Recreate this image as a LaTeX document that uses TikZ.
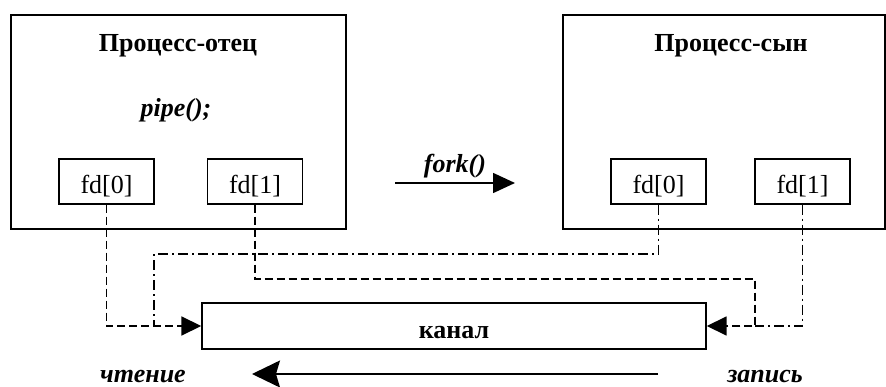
\documentclass[tikz,border=0pt]{standalone}
\usepackage{fontspec}
\setmainfont{Liberation Serif}
\usetikzlibrary{arrows.meta}

\begin{document}
\begin{tikzpicture}[x=1pt, y=-1pt,
  every node/.style={font=\fontsize{26}{30}\selectfont},
  procbox/.style={draw, line width=1.4pt, inner sep=0pt, minimum height=214pt},
  fdbox/.style={draw, line width=1.4pt, inner sep=0pt, minimum width=95pt, minimum height=45pt, text height=24pt, text depth=0pt},
  chanbox/.style={draw, line width=1.4pt, inner sep=0pt, minimum width=504pt, minimum height=46pt, text height=25pt, text depth=0pt, font=\fontsize{26}{30}\selectfont\bfseries},
  rdline/.style={line width=1.7pt, dash pattern=on 8pt off 4pt},
  wrline/.style={line width=1.7pt, dash pattern=on 10pt off 4pt on 2pt off 4pt},
  bigtip/.style={-{Triangle[length=20pt,width=19pt]}},
  flowtip/.style={line width=1.6pt, -{Stealth[length=28pt,width=27pt,inset=4pt]}}
]
\useasboundingbox (0,0) rectangle (886,387);
% Processes
\node[procbox, minimum width=335pt] (parent) at (178.5,122) {};
\node[procbox, minimum width=322pt] (child) at (724,122) {};
\node[font=\fontsize{26}{30}\selectfont\bfseries, anchor=base] (ptitle) at (178,52) {Процесс-отец};
\node[font=\fontsize{26}{30}\selectfont\bfseries\itshape, anchor=base] (pipe) at (176,117) {pipe();};
\node[font=\fontsize{26}{30}\selectfont\bfseries, anchor=base] (ctitle) at (731,52) {Процесс-сын};
% File descriptors
\node[fdbox] (p0) at (106.5,181.5) {fd[0]};
\node[fdbox] (p1) at (255,181.5) {fd[1]};
\node[fdbox] (c0) at (658.5,181.5) {fd[0]};
\node[fdbox] (c1) at (802.5,181.5) {fd[1]};
% Channel
\node[chanbox] (chan) at (454,326) {канал};
% fork
\coordinate (forkA) at (395,183);
\coordinate (forkB) at (515,183);
\draw[line width=1.6pt, -{Triangle[length=22pt,width=20pt]}] (forkA) -- node[above=1pt, font=\fontsize{26}{30}\selectfont\bfseries\itshape] (fork) {fork()} (forkB);
% Connectors to the channel
\coordinate (rdturn) at (154,254);
\coordinate (wrturn) at (755,279);
\draw[rdline, bigtip] (p0.south) |- (chan.west);
\draw[wrline] (c0.south) |- (rdturn) -- (rdturn |- chan.west);
\draw[rdline, bigtip] (p1.south) |- (wrturn) |- (chan.east);
\draw[wrline] (c1.south) |- (wrturn |- chan.east);
% Data flow
\node[font=\fontsize{26}{30}\selectfont\bfseries\itshape, anchor=base] (read) at (143,382) {чтение};
\node[font=\fontsize{26}{30}\selectfont\bfseries\itshape, anchor=base] (write) at (765,382) {запись};
\coordinate (flowA) at (658,374);
\coordinate (flowB) at (252,374);
\draw[flowtip] (flowA) -- (flowB);
\end{tikzpicture}
\end{document}
